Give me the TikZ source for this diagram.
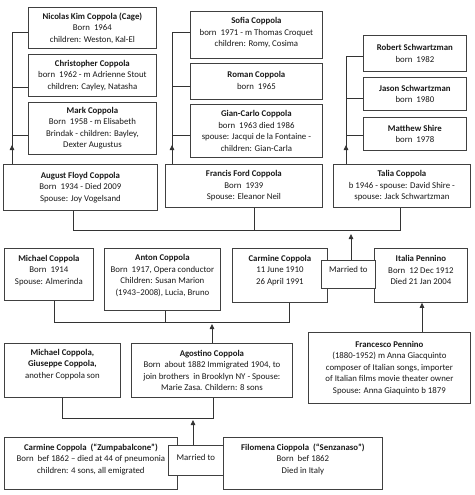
\documentclass[tikz,border=0pt]{standalone}
\usepackage{fontspec}
\setmainfont{Carlito}
\usetikzlibrary{arrows.meta}
\newcommand\bx[5]{\node[box, anchor=north west, minimum width={(#4-#2)*1pt}, minimum height={(#5-#3)*1pt}] (#1) at (#2,#3) {};}
\begin{document}
\begin{tikzpicture}[x=1pt,y=-1pt,
  box/.style={draw=black!75, line width=0.8pt, fill=white, inner sep=0pt},
  txt/.style={align=center, inner sep=0pt, font=\fontsize{8.8}{11.5}\selectfont, text=black!90},
  conn/.style={draw=black!80, line width=0.8pt},
  arr/.style={conn, -{Triangle[length=5pt,width=4.5pt]}}]
\useasboundingbox[fill=white] (0,0) rectangle (474,495);

% ---- generation: grandchildren
\bx{ni}{28}{7}{156}{48}
\node[txt] (ni-t) at (ni.center) {\textbf{Nicolas Kim Coppola (Cage)}\\Born\ \ 1964\\children: Weston, Kal-El};
\bx{ch}{28}{54}{156}{96}
\node[txt] (ch-t) at (ch.center) {\textbf{Christopher Coppola}\\born\ \ 1962 - m Adrienne Stout\\children: Cayley, Natasha};
\bx{mk}{28}{102}{156}{154}
\node[txt] (mk-t) at (mk.center) {\textbf{Mark Coppola}\\Born\ \ 1958 - m Elisabeth\\Brindak - children: Bayley,\\Dexter Augustus};

\bx{so}{190}{11}{322}{58}
\node[txt,yshift=2pt] (so-t) at (so.center) {\textbf{Sofia Coppola}\\born\ \ 1971 - m Thomas Croquet\\children: Romy, Cosima};
\bx{ro}{190}{63}{322}{99}
\node[txt,yshift=1pt] (ro-t) at (ro.center) {\textbf{Roman Coppola}\\born\ \ 1965};
\bx{gc}{190}{104}{322}{157}
\node[txt] (gc-t) at (gc.center) {\textbf{Gian-Carlo Coppola}\\born\ \ 1963 died 1986\\spouse: Jacqui de la Fontaine -\\children: Gian-Carla};

\bx{rs}{363}{35}{466}{71}
\node[txt] (rs-t) at (rs.center) {\textbf{Robert Schwartzman}\\born\ \ 1982};
\bx{js}{363}{77}{466}{110}
\node[txt] (js-t) at (js.center) {\textbf{Jason Schwartzman}\\born\ \ 1980};
\bx{ms}{363}{117}{466}{150}
\node[txt] (ms-t) at (ms.center) {\textbf{Matthew Shire}\\born\ \ 1978};

% ---- generation: children
\bx{au}{3}{164}{157}{210}
\node[txt] (au-t) at (au.center) {\textbf{August Floyd Coppola}\\Born\ \ 1934 - Died 2009\\Spouse: Joy Vogelsand};
\bx{fr}{165}{164}{322}{207}
\node[txt] (fr-t) at (fr.center) {\textbf{Francis Ford Coppola}\\Born\ \ 1939\\Spouse: Eleanor Neil};
\bx{ta}{333}{164}{470}{207}
\node[txt] (ta-t) at (ta.center) {\textbf{Talia Coppola}\\b 1946 - spouse: David Shire -\\spouse: Jack Schwartzman};

% ---- generation: parents
\bx{mc}{4}{248}{93}{300}
\node[txt,yshift=4pt] (mc-t) at (mc.center) {\textbf{Michael Coppola}\\Born\ \ 1914\\Spouse: Almerinda};
\bx{an}{104}{248}{220}{310}
\node[txt,yshift=4pt] (an-t) at (an.center) {\textbf{Anton Coppola}\\Born\ \ 1917, Opera conductor\\Children: Susan Marion\\(1943–2008), Lucia, Bruno};
\bx{cc}{232}{248}{327}{302}
\node[txt,yshift=5pt] (cc-t) at (cc.center) {\textbf{Carmine Coppola}\\11 June 1910\\26 April 1991};
\bx{it}{374}{248}{467}{302}
\node[txt,yshift=5pt] (it-t) at (it.center) {\textbf{Italia Pennino}\\Born\ \ 12 Dec 1912\\Died 21 Jan 2004};
\bx{m1}{321}{260}{375}{288}
\node[txt,yshift=5pt] (m1-t) at (m1.center) {Married to};

% ---- generation: grandparents
\bx{mg}{4}{343}{120}{397}
\node[txt,yshift=6pt] (mg-t) at (mg.center) {\textbf{Michael Coppola,}\\\textbf{Giuseppe Coppola,}\\another Coppola son};
\bx{ag}{131}{343}{292}{397}
\node[txt] (ag-t) at (ag.center) {\textbf{Agostino Coppola}\\Born\ \ about 1882 Immigrated 1904, to\\join brothers\ \ in Brooklyn NY - Spouse:\\Marie Zasa. Childern: 8 sons};
\bx{fp}{308}{332}{470}{403}
\node[txt] (fp-t) at (fp.center) {\textbf{Francesco Pennino}\\(1880-1952) m Anna Giacquinto\\composer of Italian songs, importer\\of Italian films movie theater owner\\Spouse: Anna Giaquinto b 1879};

% ---- generation: great-grandparents
\bx{cz}{4}{437}{177}{489}
\node[txt,yshift=4pt] (cz-t) at (cz.center) {\textbf{Carmine Coppola\ \ (“Zumpabalcone”)}\\Born\ \ bef 1862 – died at 44 of pneumonia\\children: 4 sons, all emigrated};
\bx{fi}{223}{437}{382}{489}
\node[txt,yshift=4pt] (fi-t) at (fi.center) {\textbf{Filomena Cioppola\ \ (“Senzanaso”)}\\Born\ \ bef 1862\\Died in Italy};
\bx{m2}{168}{445}{223}{475}
\node[txt,yshift=3pt] (m2-t) at (m2.center) {Married to};

% ---- connectors
\coordinate (g1) at (12,164);
\draw[conn] ([yshift=-4.5pt]ni.west) -| (g1);
\draw[conn] ([yshift=-12pt]ch.west) -- ++(-16,0);
\draw[conn] ([yshift=-7pt]mk.west) -- ++(-16,0);
\draw[arr] (g1) -- ++(0,-19);

\coordinate (g2) at (172,164);
\draw[conn] ([yshift=2.5pt]so.west) -| (g2);
\draw[conn] ([yshift=-5pt]ro.west) -- ++(-18,0);
\draw[conn] ([yshift=-4.5pt]gc.west) -- ++(-18,0);
\draw[arr] (g2) -- ++(0,-19);

\coordinate (g3) at (346,164);
\draw[conn] ([yshift=-3pt]rs.west) -| (g3);
\draw[conn] ([yshift=-4.5pt]js.west) -- ++(-17,0);
\draw[conn] ([yshift=-1.5pt]ms.west) -- ++(-17,0);
\draw[arr] (g3) -- ++(0,-19);

\coordinate (e1) at (73,230);
\coordinate (e2) at (400,230);
\coordinate (e3) at (254,230);
\coordinate (e4) at (351,234);
\draw[conn] (au.south -| e1) -- (e1) -- (e2) -- (ta.south -| e2);
\draw[conn] (fr.south -| e3) -- (e3);
\draw[arr] (m1.north -| e4) -- (e4);

\coordinate (f1) at (54,322);
\coordinate (f2) at (289,322);
\coordinate (f3) at (165,322);
\coordinate (f4) at (212,324);
\draw[conn] (mc.south -| f1) -- (f1) -- (f2) -- (cc.south -| f2);
\draw[conn] (an.south -| f3) -- (f3);
\draw[arr] (ag.north -| f4) -- (f4);

\coordinate (h1) at (422,0);
\draw[arr] (fp.north -| h1) -- (it.south -| h1);

\coordinate (k1) at (62,418);
\coordinate (k2) at (213,418);
\coordinate (k3) at (193,420);
\draw[conn] (mg.south -| k1) -- (k1) -- (k2) -- (ag.south -| k2);
\draw[arr] (m2.north -| k3) -- (k3);
\end{tikzpicture}
\end{document}
